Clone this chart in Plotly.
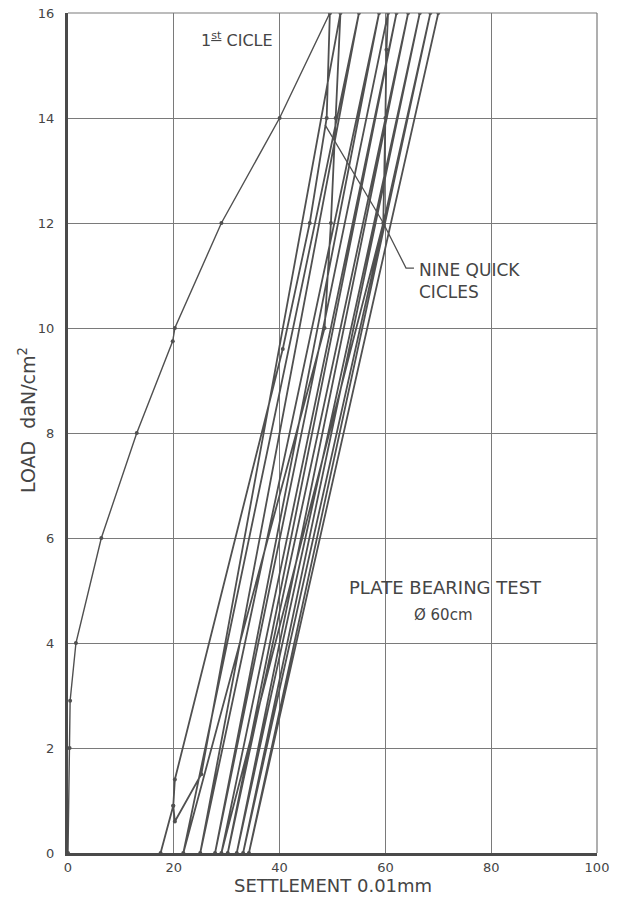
import plotly.graph_objects as go

# ---- data ----
first_x = [0, 0.3, 0.4, 1.5, 6.3, 13.0, 19.8, 20.2, 29.0, 40.0, 49.5]
first_y = [0, 2.0, 2.9, 4.0, 6.0, 8.0, 9.75, 10.0, 12.0, 14.0, 16.0]

quick_x = [49.5, 48.9, 45.7, 40.6, 20.2, 19.9, 17.5, 19.9, 20.2, 25.2, 51.5, 50.6, 49.7, 48.5, 21.8,
           55.0, 25.0, 58.8, 27.8, 60.5, 60.2, 60.0, 59.6, 29.0, 62.1, 30.2, 64.3, 31.9,
           66.5, 33.1, 68.5, 34.2, 70.0]
quick_y = [16, 14, 12, 9.6, 1.4, 0.9, 0, 0.9, 0.6, 1.5, 16, 14, 12, 10, 0,
           16, 0, 16, 0, 16, 15.3, 14, 12, 0, 16, 0, 16, 0,
           16, 0, 16, 0, 16]

leader_x = [48.6, 59.5, 63.9, 65.4]
leader_y = [13.87, 12.02, 11.14, 11.14]

x_ticks = [0, 20, 40, 60, 80, 100]
y_ticks = [0, 2, 4, 6, 8, 10, 12, 14, 16]

LINE = "#505050"
TEXT = "#454545"
GRID = "#7a7a7a"
FONT = "DejaVu Sans"

fig = go.Figure()
fig.add_trace(go.Scatter(x=first_x, y=first_y, mode="lines+markers",
                         line=dict(color=LINE, width=1.4),
                         marker=dict(size=4, color=LINE), showlegend=False))
fig.add_trace(go.Scatter(x=quick_x, y=quick_y, mode="lines+markers",
                         line=dict(color=LINE, width=1.8),
                         marker=dict(size=4, color=LINE), showlegend=False))
fig.add_trace(go.Scatter(x=leader_x, y=leader_y, mode="lines",
                         line=dict(color=LINE, width=1.3), showlegend=False))

fig.update_xaxes(range=[0, 100], tickvals=x_ticks, ticktext=[str(v) for v in x_ticks],
                 showgrid=True, gridcolor=GRID, gridwidth=1, zeroline=False, automargin=False,
                 showline=True, linecolor="#4a4a4a", linewidth=3, ticks="",
                 tickfont=dict(family=FONT, size=13, color=TEXT), ticklabelstandoff=0)
fig.update_yaxes(range=[0, 16], tickvals=y_ticks, ticktext=[str(v) for v in y_ticks],
                 showgrid=True, gridcolor=GRID, gridwidth=1, zeroline=False, automargin=False,
                 showline=True, linecolor="#4a4a4a", linewidth=3, ticks="",
                 tickfont=dict(family=FONT, size=13, color=TEXT), ticklabelstandoff=8)

# top and right borders
fig.add_shape(type="line", xref="paper", yref="paper", x0=0, x1=1, y0=1, y1=1,
              line=dict(color=GRID, width=1.2))
fig.add_shape(type="line", xref="paper", yref="paper", x0=1, x1=1, y0=0, y1=1,
              line=dict(color=GRID, width=1.2))

fig.add_annotation(x=31.9, y=15.49, text="1<sup><u>st</u></sup> CICLE", showarrow=False,
                   font=dict(family=FONT, size=16, color=TEXT))
fig.add_annotation(x=66.0, y=10.9, text="NINE QUICK<br>CICLES", showarrow=False,
                   xanchor="left", align="left", font=dict(family=FONT, size=17, color=TEXT))
fig.add_annotation(x=71.3, y=5.05, text="PLATE BEARING TEST", showarrow=False,
                   font=dict(family=FONT, size=18, color=TEXT))
fig.add_annotation(x=70.9, y=4.53, text="Ø 60cm", showarrow=False,
                   font=dict(family=FONT, size=15, color=TEXT))
fig.add_annotation(xref="paper", yref="paper", x=0.5, y=0, yshift=-32,
                   text="SETTLEMENT 0.01mm", showarrow=False, yanchor="middle",
                   xanchor="center", font=dict(family=FONT, size=18, color=TEXT))
fig.add_annotation(xref="paper", yref="paper", x=0, xshift=-41, y=0.5, yshift=13,
                   xanchor="center", yanchor="middle",
                   text="LOAD  daN/cm<sup>2</sup>", showarrow=False, textangle=-90,
                   font=dict(family=FONT, size=19, color=TEXT))

fig.update_layout(width=622, height=897, plot_bgcolor="white", paper_bgcolor="white",
                  margin=dict(l=68, r=25, t=13, b=44), showlegend=False)

fig.write_html("out.html", config={"displayModeBar": False},
               post_script="document.body.style.margin='0';document.body.style.overflow='hidden';")
